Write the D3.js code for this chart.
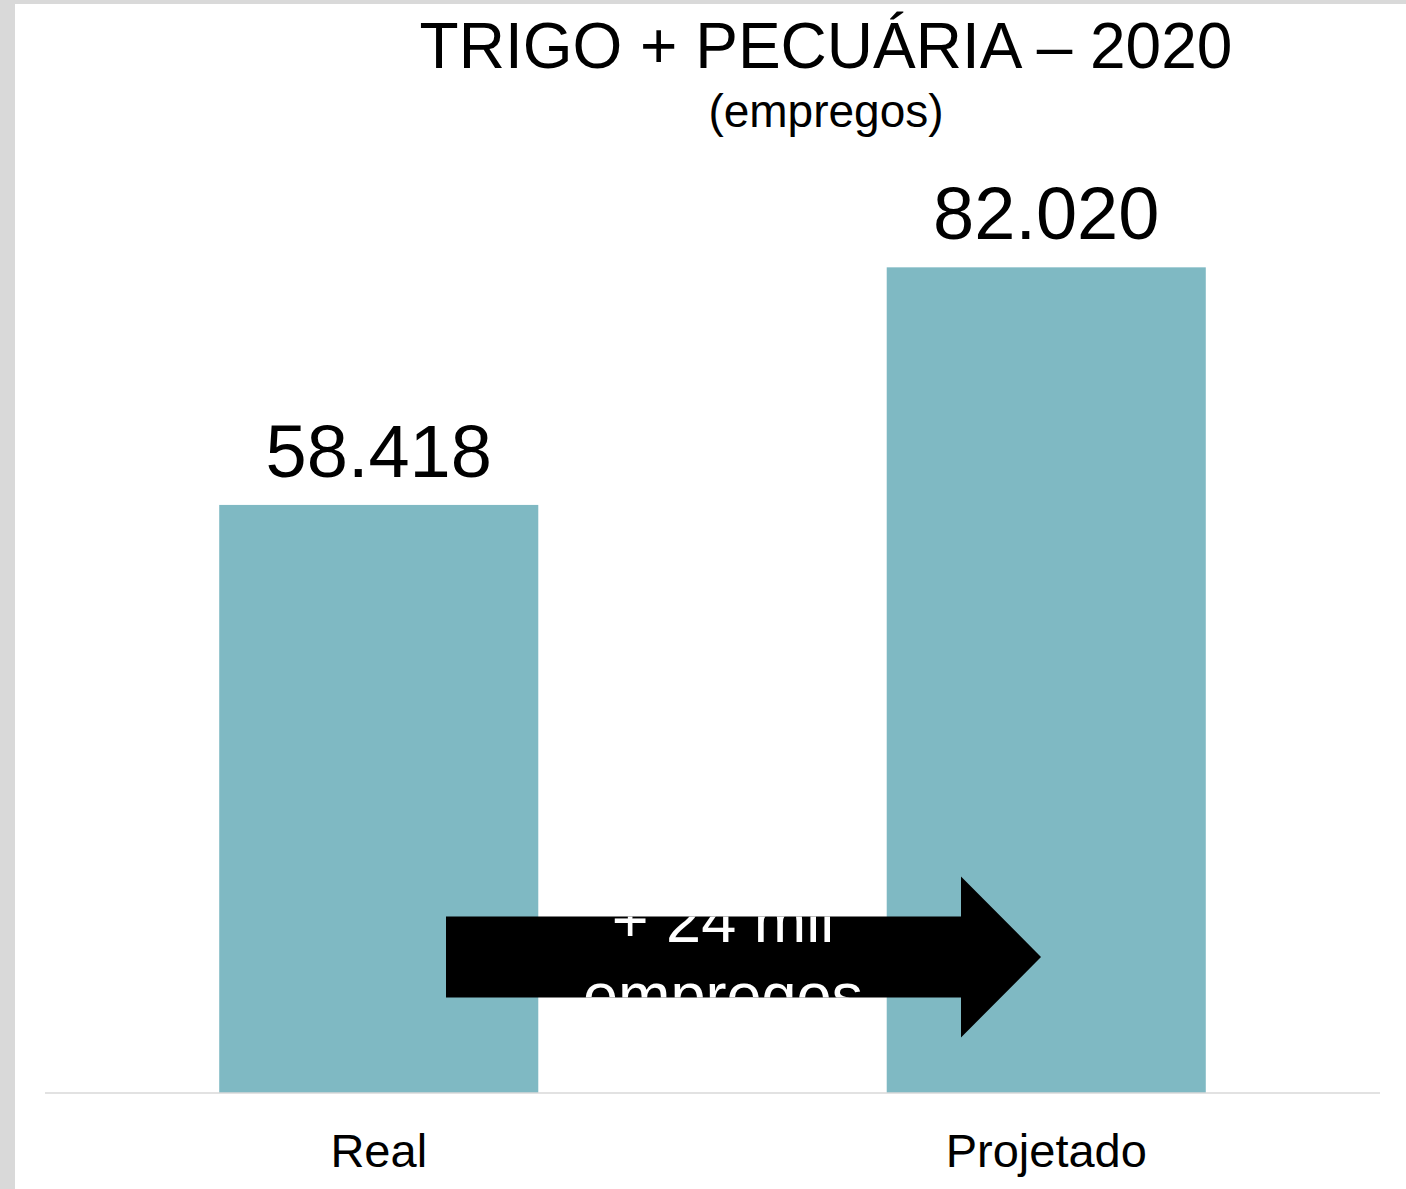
<!DOCTYPE html>
<html>
<head>
<meta charset="utf-8">
<script src="https://cdn.jsdelivr.net/npm/d3@7"></script>
<style>
  html, body { margin: 0; padding: 0; background: #fff; }
  svg { display: block; font-family: "Liberation Sans", Arial, sans-serif; }
</style>
</head>
<body>
<script>
// Employment: actual vs projected
const categories = ["Real", "Projetado"];
const values = [58418, 82020];
const valueLabels = ["58.418", "82.020"];
const titleText = "TRIGO + PECUÁRIA – 2020";
const subtitleText = "(empregos)";
const arrowLines = ["+ 24 mil", "empregos"];

const W = 1406, H = 1189;
const barColor = "#7fb9c3";
const frameColor = "#d9d9d9";

const svg = d3.select("body").append("svg")
  .attr("width", W).attr("height", H);

// frame strips on the left and top edges
svg.append("rect").attr("x", 0).attr("y", 0).attr("width", W).attr("height", H).attr("fill", "#fff");
svg.append("rect").attr("x", 0).attr("y", 0).attr("width", 15).attr("height", H).attr("fill", frameColor);
svg.append("rect").attr("x", 0).attr("y", 0).attr("width", W).attr("height", 4).attr("fill", frameColor);

const plot = { left: 45, right: 1380, bottom: 1093, top: 187 };

const x = d3.scaleBand()
  .domain(categories)
  .range([plot.left, plot.right])
  .paddingInner(0.522)
  .paddingOuter(0.261);

const y = d3.scaleLinear()
  .domain([0, 90000])
  .range([plot.bottom, plot.top]);

// bars
svg.append("g").selectAll("rect")
  .data(categories)
  .join("rect")
  .attr("x", d => x(d))
  .attr("y", (d, i) => y(values[i]))
  .attr("width", x.bandwidth())
  .attr("height", (d, i) => y(0) - y(values[i]))
  .attr("fill", barColor);

// value labels above bars
svg.append("g").selectAll("text")
  .data(categories)
  .join("text")
  .attr("x", d => x(d) + x.bandwidth() / 2)
  .attr("y", (d, i) => y(values[i]) - 28)
  .attr("text-anchor", "middle")
  .attr("font-size", 74)
  .attr("fill", "#000")
  .text((d, i) => valueLabels[i]);

// baseline axis
const xAxis = d3.axisBottom(x).tickSize(0).tickPadding(0);
const gx = svg.append("g")
  .attr("transform", `translate(0,${plot.bottom})`)
  .call(xAxis);
gx.select(".domain")
  .attr("d", `M${plot.left},0H${plot.right}`)
  .attr("stroke", frameColor)
  .attr("stroke-width", 1.6);
gx.selectAll(".tick text")
  .attr("y", 74)
  .attr("dy", 0)
  .attr("font-size", 47)
  .attr("font-family", "Liberation Sans, Arial, sans-serif")
  .attr("fill", "#000");

// title
svg.append("text")
  .attr("x", 826).attr("y", 68)
  .attr("text-anchor", "middle")
  .attr("font-size", 64)
  .attr("fill", "#000")
  .text(titleText);
svg.append("text")
  .attr("x", 826).attr("y", 127)
  .attr("text-anchor", "middle")
  .attr("font-size", 46)
  .attr("fill", "#000")
  .text(subtitleText);

// arrow from the first bar towards the second
const arrow = { x0: 446, x1: 961, tip: 1041, yMid: 957, shaftHalf: 40.5, headHalf: 80.5 };
const arrowPath = d3.path();
arrowPath.moveTo(arrow.x0, arrow.yMid - arrow.shaftHalf);
arrowPath.lineTo(arrow.x1, arrow.yMid - arrow.shaftHalf);
arrowPath.lineTo(arrow.x1, arrow.yMid - arrow.headHalf);
arrowPath.lineTo(arrow.tip, arrow.yMid);
arrowPath.lineTo(arrow.x1, arrow.yMid + arrow.headHalf);
arrowPath.lineTo(arrow.x1, arrow.yMid + arrow.shaftHalf);
arrowPath.lineTo(arrow.x0, arrow.yMid + arrow.shaftHalf);
arrowPath.closePath();

svg.append("defs").append("clipPath").attr("id", "arrow-clip")
  .append("path").attr("d", arrowPath.toString());

svg.append("path").attr("d", arrowPath.toString()).attr("fill", "#000");

svg.append("g").attr("clip-path", "url(#arrow-clip)")
  .selectAll("text")
  .data(arrowLines)
  .join("text")
  .attr("x", 723)
  .attr("y", (d, i) => 942 + i * 75)
  .attr("text-anchor", "middle")
  .attr("font-size", 63)
  .attr("fill", "#fff")
  .text(d => d);
</script>
</body>
</html>
